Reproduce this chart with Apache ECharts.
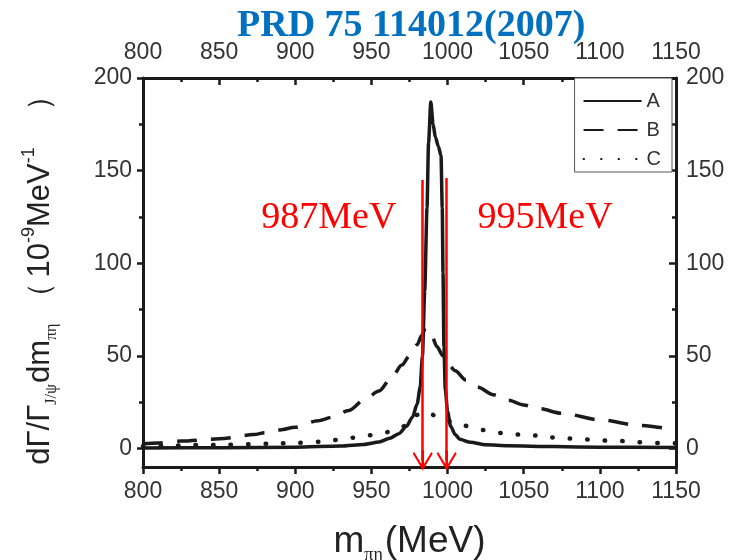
<!DOCTYPE html>
<html><head><meta charset="utf-8">
<script src="https://cdn.jsdelivr.net/npm/echarts@6/dist/echarts.min.js"></script>
<style>html,body{margin:0;padding:0;background:#fff}#c{width:738px;height:560px}</style>
</head><body><div id="c"></div>
<script>
const xTicks = [800, 850, 900, 950, 1000, 1050, 1100, 1150];
const yTicks = [0, 50, 100, 150, 200];
const yMinorTicks = [25, 75, 125, 175];

const aX = [800, 850, 900, 930, 945, 955, 962, 968, 973, 977, 980, 982, 983.5, 985, 986.5, 987.5, 989, 990.5, 992, 994, 995.7, 996.5, 997, 997.6, 998.5, 1000, 1002, 1005, 1008, 1015, 1025, 1040, 1070, 1100, 1150];
const aY = [0.3, 0.4, 0.7, 1.3, 2.2, 3.5, 5.5, 8, 12, 17, 24, 33, 50, 85, 130, 165, 187, 175, 168, 163, 158, 130, 95, 55, 32, 20, 12, 7.5, 5, 3.3, 2, 1.5, 1, 0.7, 0.5];

const bX = [800, 810, 825, 850, 873, 880, 890, 900, 915, 925, 935, 945, 955, 963, 970, 975, 980, 983, 985.5, 988, 990, 993, 997, 1000, 1005, 1012, 1020, 1030, 1040, 1050, 1060, 1075, 1100, 1125, 1150];
const bY = [2.5, 3, 4, 5.2, 7.5, 8.5, 10, 11.5, 15, 17, 20.5, 26, 31, 38, 45, 50, 56, 61, 65, 63, 60, 55, 50, 46, 42, 37, 33, 29, 26, 23.5, 21.5, 19, 15.5, 12.5, 10];

const cX = [800, 815, 830, 850, 870, 885, 900, 915, 925, 937, 947, 960, 970, 981, 987, 991, 997, 1010, 1024, 1035, 1047, 1058, 1067, 1078, 1090, 1101, 1114, 1124, 1138, 1150];
const cY = [1.2, 1.3, 1.8, 1.9, 2.3, 2.6, 3.0, 3.6, 4.5, 5.8, 7, 8.8, 11.7, 18.3, 19.8, 18, 15.6, 12.4, 9.9, 8.4, 7.5, 7, 6, 5.4, 4.9, 4.3, 4, 3.4, 3, 2.8];

const seriesNames = ['A', 'B', 'C'];
const arrowX = [983.7, 999.4];
const arrowTop = [145, 146];
const arrowEnd = -6.5;
const noteText = ['987MeV', '995MeV'];
const notePos = [[922, 124.5], [1064, 124.5]];

function zip(xs, ys) { return xs.map((x, i) => [x, ys[i]]); }

const chevron = 'path://M10,0 L20,17 L18.6,18.6 L11.3,6.5 L11.3,20 L8.7,20 L8.7,6.5 L1.4,18.6 L0,17 Z';

const chart = echarts.init(document.getElementById('c'), null, {renderer: 'canvas'});
const axisColor = '#1a1a1a';
const plain = v => String(v);
const labelStyle = {fontSize: 23, color: '#333', fontFamily: 'Liberation Sans, Arial, sans-serif', formatter: plain};

const option = {
  animation: false,
  backgroundColor: '#fff',
  title: {
    text: 'PRD 75 114012(2007)',
    left: 232, top: 2,
    textStyle: {fontSize: 38, fontWeight: 'bold', color: '#0070C0', fontFamily: 'Liberation Serif, Times New Roman, serif'}
  },
  legend: {
    orient: 'vertical',
    right: 66, top: 78,
    align: 'left',
    itemWidth: 58, itemHeight: 14, itemGap: 9,
    padding: [13, 11, 3, 8],
    borderColor: '#555', borderWidth: 1,
    backgroundColor: '#fff',
    itemStyle: {opacity: 0},
    textStyle: {fontSize: 20, color: '#333', fontFamily: 'Liberation Sans, Arial, sans-serif'},
    data: seriesNames
  },
  grid: [
    {left: 143, right: 62, top: 78, bottom: 93, containLabel: false, outerBoundsMode: 'none'},
    {left: 143, right: 62, top: 78, bottom: 93, containLabel: false, outerBoundsMode: 'none'}
  ],
  xAxis: [
    {
      type: 'value', gridIndex: 0, position: 'bottom', min: 800, max: 1150, interval: 50,
      axisLine: {show: true, onZero: false, lineStyle: {color: axisColor, width: 3}},
      axisTick: {show: true, inside: false, length: 7, lineStyle: {color: axisColor, width: 2.5}},
      minorTick: {show: true, splitNumber: 2, length: 4, lineStyle: {color: axisColor, width: 2.5}},
      splitLine: {show: false},
      axisLabel: Object.assign({margin: 13, customValues: xTicks}, labelStyle),
      name: '{m|m}{s|πη}{m|(MeV)}',
      nameLocation: 'middle', nameGap: 53,
      nameTextStyle: {
        rich: {
          m: {fontSize: 37, color: '#222', fontFamily: 'Liberation Sans, Arial, sans-serif', lineHeight: 44},
          s: {fontSize: 18, color: '#222', fontFamily: 'Liberation Serif, serif', verticalAlign: 'bottom', lineHeight: 44, padding: [16, 2, 0, 0]}
        }
      }
    },
    {
      type: 'value', gridIndex: 0, position: 'top', min: 800, max: 1150, interval: 50,
      axisLine: {show: true, onZero: false, lineStyle: {color: axisColor, width: 3}},
      axisTick: {show: true, inside: true, length: 7, lineStyle: {color: axisColor, width: 2.5}},
      minorTick: {show: true, splitNumber: 2, length: 4, lineStyle: {color: axisColor, width: 2.5}},
      splitLine: {show: false},
      axisLabel: Object.assign({margin: 14, customValues: xTicks}, labelStyle)
    },
    {type: 'value', gridIndex: 1, min: 800, max: 1150, show: false}
  ],
  yAxis: [
    {
      type: 'value', gridIndex: 0, position: 'left', min: -10, max: 200,
      axisLine: {show: true, onZero: false, lineStyle: {color: axisColor, width: 3}},
      axisTick: {show: true, inside: false, length: 6, customValues: yTicks, lineStyle: {color: axisColor, width: 2.5}},
      splitLine: {show: false},
      axisLabel: Object.assign({margin: 11, customValues: yTicks}, labelStyle),
      name: '{m|dΓ/Γ}{s|J/ψ}{m|dm}{s|πη}{q|（}{m|10}{p|-9}{m|MeV}{p|-1}{r|）}',
      nameLocation: 'middle', nameGap: 83, nameRotate: 90,
      nameTextStyle: {
        rich: {
          m: {fontSize: 31, color: '#222', fontFamily: 'Liberation Sans, Arial, sans-serif', lineHeight: 40},
          q: {fontSize: 31, color: '#222', fontFamily: 'Liberation Sans, Arial, sans-serif', lineHeight: 40, padding: [0, 4, 0, 10]},
          r: {fontSize: 31, color: '#222', fontFamily: 'Liberation Sans, Arial, sans-serif', lineHeight: 40, padding: [0, 0, 0, 36]},
          s: {fontSize: 16, color: '#222', fontFamily: 'Liberation Serif, serif', verticalAlign: 'bottom', lineHeight: 40, padding: [14, 1, 0, 0]},
          p: {fontSize: 18, color: '#222', fontFamily: 'Liberation Sans, Arial, sans-serif', verticalAlign: 'top', lineHeight: 40, padding: [0, 0, 12, 0]}
        }
      }
    },
    {
      type: 'value', gridIndex: 0, position: 'right', min: -10, max: 200,
      axisLine: {show: true, onZero: false, lineStyle: {color: axisColor, width: 3}},
      axisTick: {show: true, inside: true, length: 7, customValues: yTicks, lineStyle: {color: axisColor, width: 2.5}},
      splitLine: {show: false},
      axisLabel: Object.assign({margin: 10, customValues: yTicks}, labelStyle)
    },
    {
      type: 'value', gridIndex: 1, position: 'left', min: -10, max: 200,
      axisLine: {show: false, onZero: false},
      axisTick: {show: true, inside: false, length: 4, customValues: yMinorTicks, lineStyle: {color: axisColor, width: 2.5}},
      splitLine: {show: false},
      axisLabel: {show: false}
    },
    {
      type: 'value', gridIndex: 1, position: 'right', min: -10, max: 200,
      axisLine: {show: false, onZero: false},
      axisTick: {show: true, inside: true, length: 4, customValues: yMinorTicks, lineStyle: {color: axisColor, width: 2.5}},
      splitLine: {show: false},
      axisLabel: {show: false}
    }
  ],
  series: [
    {
      name: 'A', type: 'line', xAxisIndex: 0, yAxisIndex: 0,
      data: zip(aX, aY), symbol: 'none', smooth: 0.25, smoothMonotone: 'x',
      lineStyle: {color: '#1a1a1a', width: 3.5, type: 'solid'},
      itemStyle: {color: '#1a1a1a'},
      z: 3,
      markLine: {
        silent: true, animation: false,
        symbol: ['none', chevron], symbolSize: [20, 20],
        label: {show: false},
        lineStyle: {color: '#ff0000', width: 2.5, type: 'solid'},
        emphasis: {disabled: true},
        data: arrowX.map((x, i) => [{coord: [x, arrowTop[i]]}, {coord: [x, arrowEnd]}])
      },
      markPoint: {
        silent: true, animation: false,
        symbol: 'circle', symbolSize: 0,
        label: {show: true, position: 'inside', formatter: '{b}', fontSize: 38, color: '#ff0000', fontFamily: 'Liberation Serif, Times New Roman, serif'},
        data: noteText.map((t, i) => ({name: t, coord: notePos[i]}))
      }
    },
    {
      name: 'B', type: 'line', xAxisIndex: 0, yAxisIndex: 0,
      data: zip(bX, bY), symbol: 'none', smooth: 0.3, smoothMonotone: 'x',
      lineStyle: {color: '#1a1a1a', width: 3.5, type: [20, 14]},
      itemStyle: {color: '#1a1a1a'},
      z: 2
    },
    {
      name: 'C', type: 'line', xAxisIndex: 0, yAxisIndex: 0,
      data: zip(cX, cY), symbol: 'none', smooth: 0.3, smoothMonotone: 'x',
      lineStyle: {color: '#1a1a1a', width: 4.5, type: [0.5, 17], cap: 'round'},
      itemStyle: {color: '#1a1a1a'},
      z: 2
    }
  ]
};
chart.setOption(option);
</script>
</body></html>
